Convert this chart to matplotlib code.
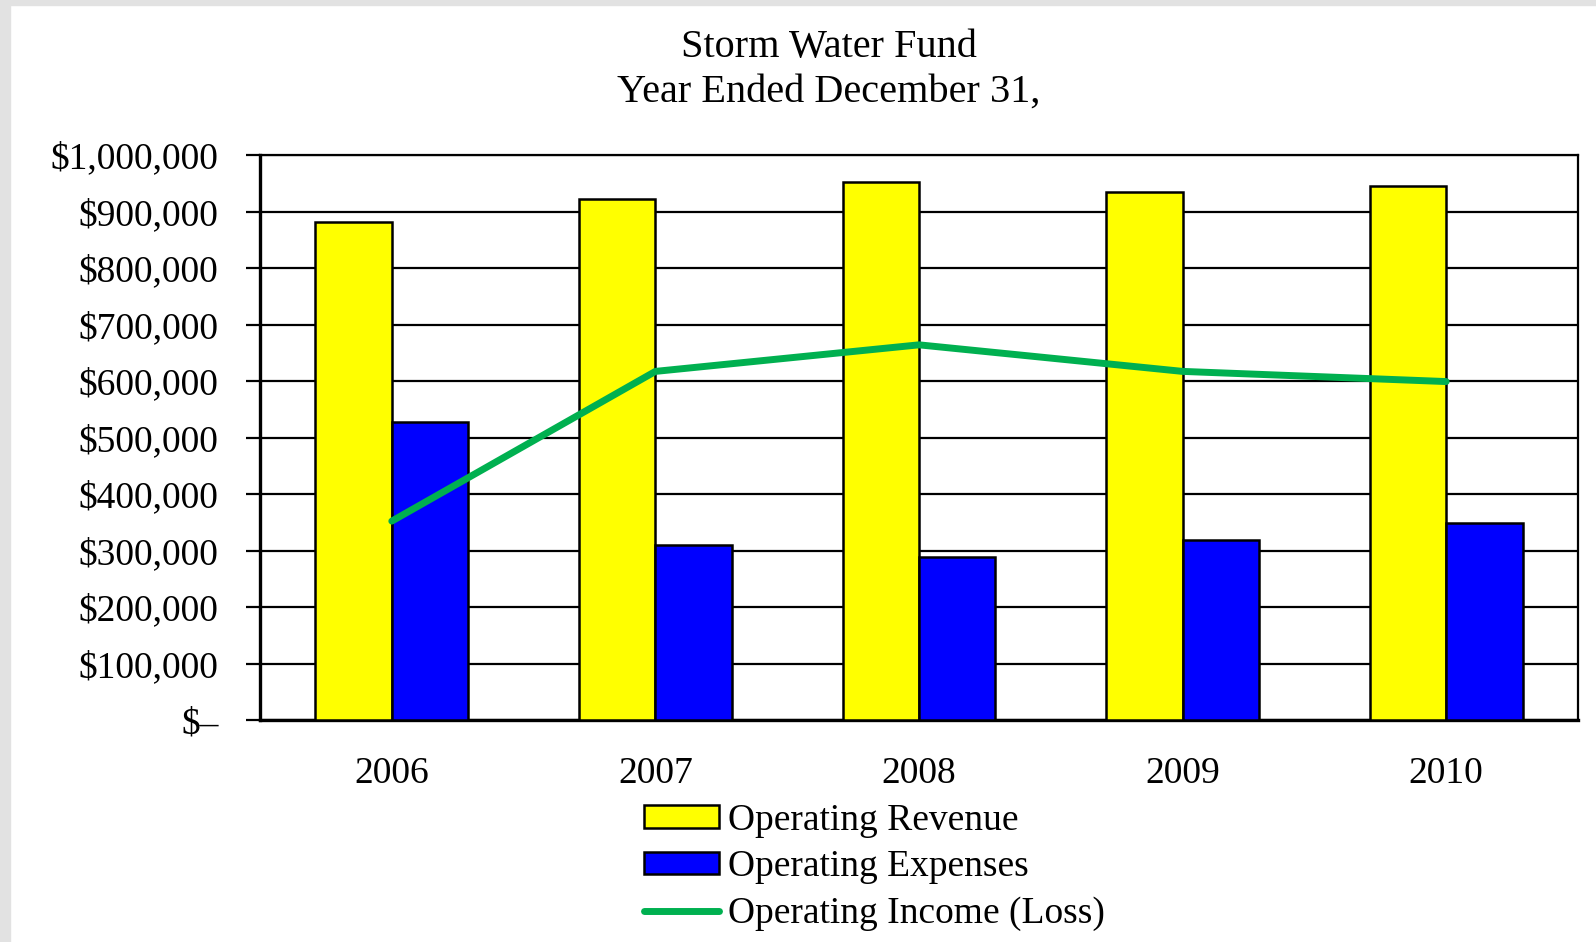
import matplotlib
matplotlib.use("Agg")
import matplotlib.pyplot as plt
from matplotlib.patches import Rectangle
import numpy as np

plt.rcParams['font.family'] = ['Liberation Serif', 'DejaVu Serif']

years = ['2006', '2007', '2008', '2009', '2010']
revenue = [881000, 923000, 952000, 935000, 945000]
expenses = [528000, 310000, 289000, 318000, 348000]
income = [352000, 617000, 664000, 617000, 599000]
yticks = [0, 100000, 200000, 300000, 400000, 500000, 600000, 700000, 800000, 900000, 1000000]

fig = plt.figure(figsize=(15.96, 9.42), dpi=100)
fig.patch.set_facecolor('white')
# grainy grey scan border on left and top
fig.patches.append(Rectangle((0, 0), 10/1596, 1, transform=fig.transFigure, color='#e2e2e2', zorder=0))
fig.patches.append(Rectangle((0, 1-5/942), 1, 5/942, transform=fig.transFigure, color='#e2e2e2', zorder=0))

ax = fig.add_axes([260/1596, 1-720/942, 1318/1596, 565/942])
x = np.arange(len(years))
w = 0.29
b1 = ax.bar(x - w/2, revenue, w, color='#ffff00', edgecolor='black', linewidth=1.8, zorder=3)
b2 = ax.bar(x + w/2, expenses, w, color='#0000ff', edgecolor='black', linewidth=1.8, zorder=3)
l1, = ax.plot(x, income, color='#00b050', linewidth=5, solid_capstyle='round', zorder=4)

ax.set_xlim(-0.5, len(years) - 0.5)
ax.set_ylim(0, 1000000)
ax.set_yticks(yticks)
ax.set_yticklabels(['$–' if v == 0 else '${:,.0f}'.format(v) for v in yticks])
ax.set_xticks(x)
ax.set_xticklabels(years)
ax.yaxis.grid(True, color='black', linewidth=1.6, zorder=0)
ax.set_axisbelow(True)
ax.tick_params(axis='y', length=10, width=1.6, direction='out', pad=20, labelsize=27)
ax.tick_params(axis='x', length=0, pad=26, labelsize=27)
for s in ['left', 'bottom']:
    ax.spines[s].set_linewidth(2.4)
for s in ['top', 'right']:
    ax.spines[s].set_linewidth(1.6)

fig.text(829/1596, 1-48/942, 'Storm Water Fund', ha='center', va='center', fontsize=29)
fig.text(829/1596, 1-92/942, 'Year Ended December 31,', ha='center', va='center', fontsize=29)

fig.legend([b1, b2, l1], ['Operating Revenue', 'Operating Expenses', 'Operating Income (Loss)'],
           loc='upper left', bbox_to_anchor=(644/1596, 1-803/942), frameon=False,
           fontsize=27, handlelength=2.0, handleheight=0.55, handletextpad=0.25,
           labelspacing=0.33, borderpad=0, borderaxespad=0)

fig.savefig('out.png', dpi=100)
